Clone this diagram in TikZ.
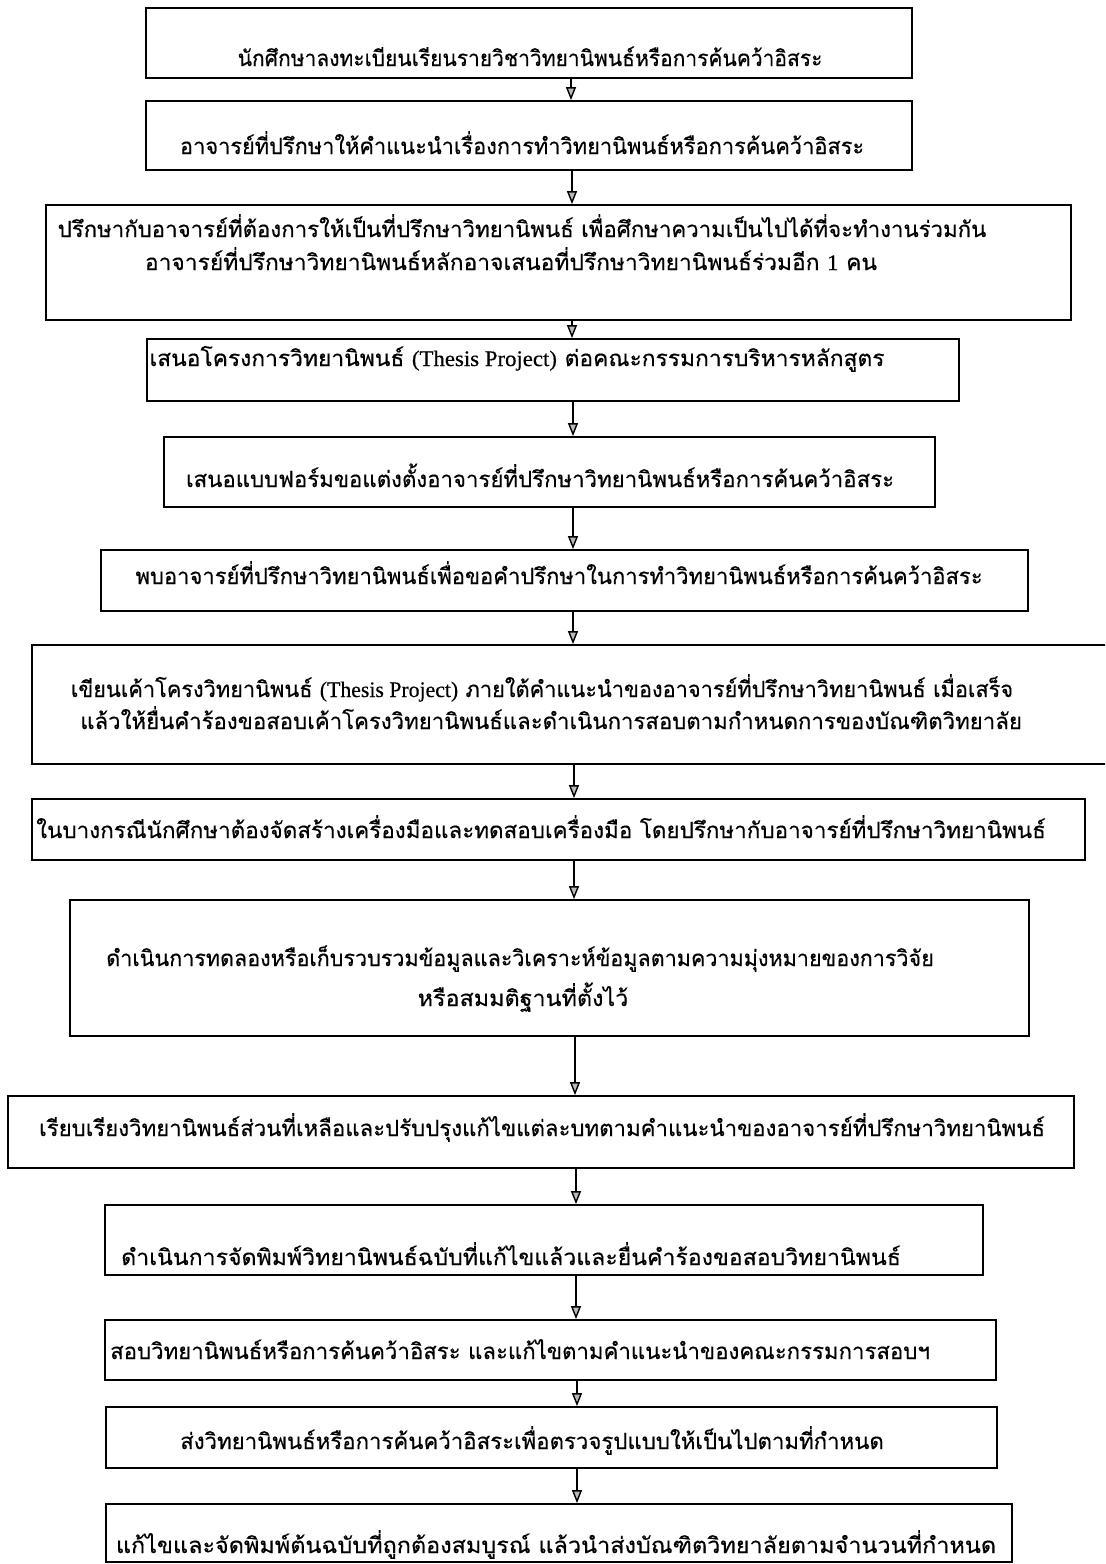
\documentclass[tikz,border=0pt]{standalone}
\usepackage{fontspec}
\newfontfamily\thaifont[Script=Thai,FakeBold=0.4]{Loma}
\newfontfamily\latfont[FakeBold=0.4]{Liberation Serif}
\usetikzlibrary{arrows.meta,fit}
\newcommand{\lt}[1]{{\latfont #1}}
\newcommand{\T}[2]{\scalebox{#1}[1]{#2}}
\begin{document}
\begin{tikzpicture}[x=0.5pt,y=-0.5pt,
  box/.style={draw, line width=0.9pt, inner sep=0pt},
  txt/.style={anchor=base, inner sep=0pt, font=\thaifont\fontsize{11.1pt}{13pt}\selectfont},
  arr/.style={line width=0.7pt, -{Triangle[length=6.5pt,width=5pt,fill=gray!55]}}]
\useasboundingbox (0,0) rectangle (1105,1564);
\clip (0,0) rectangle (1105,1564);
% boxes
\node[box, fit={(146,8) (912,78)}] (b1) {};
\node[box, fit={(146,101) (912,170)}] (b2) {};
\node[box, fit={(46,205) (1071,320)}] (b3) {};
\node[box, fit={(147,339) (959,401)}] (b4) {};
\node[box, fit={(164,437) (935,507)}] (b5) {};
\node[box, fit={(101,550) (1028,611)}] (b6) {};
\node[box, fit={(32,645) (1115,764)}] (b7) {};
\node[box, fit={(32,799) (1085,860)}] (b8) {};
\node[box, fit={(70,900) (1029,1036)}] (b9) {};
\node[box, fit={(8,1096) (1074,1168)}] (b10) {};
\node[box, fit={(105,1205) (983,1275)}] (b11) {};
\node[box, fit={(105,1320) (996,1380)}] (b12) {};
\node[box, fit={(106,1407) (997,1468)}] (b13) {};
\node[box, fit={(106,1504) (1012,1562)}] (b14) {};
% texts
\node[txt] (t1) at (530,66) {\T{0.945}{นักศึกษาลงทะเบียนเรียนรายวิชาวิทยานิพนธ์หรือการค้นคว้าอิสระ}};
\node[txt] (t2) at (522,154) {\T{0.981}{อาจารย์ที่ปรึกษาให้คำแนะนำเรื่องการทำวิทยานิพนธ์หรือการค้นคว้าอิสระ}};
\node[txt] (t3a) at (522,237) {\T{1.0}{ปรึกษากับอาจารย์ที่ต้องการให้เป็นที่ปรึกษาวิทยานิพนธ์ เพื่อศึกษาความเป็นไปได้ที่จะทำงานร่วมกัน}};
\node[txt] (t3b) at (511,270) {\T{1.027}{อาจารย์ที่ปรึกษาวิทยานิพนธ์หลักอาจเสนอที่ปรึกษาวิทยานิพนธ์ร่วมอีก \lt{1} คน}};
\node[txt] (t4) at (517,366) {\T{1.027}{เสนอโครงการวิทยานิพนธ์ \lt{(Thesis Project)} ต่อคณะกรรมการบริหารหลักสูตร}};
\node[txt] (t5) at (540,487) {\T{1.0}{เสนอแบบฟอร์มขอแต่งตั้งอาจารย์ที่ปรึกษาวิทยานิพนธ์หรือการค้นคว้าอิสระ}};
\node[txt] (t6) at (559,584) {\T{0.99}{พบอาจารย์ที่ปรึกษาวิทยานิพนธ์เพื่อขอคำปรึกษาในการทำวิทยานิพนธ์หรือการค้นคว้าอิสระ}};
\node[txt] (t7a) at (542,697) {\T{0.98}{เขียนเค้าโครงวิทยานิพนธ์ \lt{(Thesis Project)} ภายใต้คำแนะนำของอาจารย์ที่ปรึกษาวิทยานิพนธ์ เมื่อเสร็จ}};
\node[txt] (t7b) at (551,729) {\T{1.0}{แล้วให้ยื่นคำร้องขอสอบเค้าโครงวิทยานิพนธ์และดำเนินการสอบตามกำหนดการของบัณฑิตวิทยาลัย}};
\node[txt] (t8) at (541,838) {\T{1.01}{ในบางกรณีนักศึกษาต้องจัดสร้างเครื่องมือและทดสอบเครื่องมือ โดยปรึกษากับอาจารย์ที่ปรึกษาวิทยานิพนธ์}};
\node[txt] (t9a) at (520,966) {\T{0.97}{ดำเนินการทดลองหรือเก็บรวบรวมข้อมูลและวิเคราะห์ข้อมูลตามความมุ่งหมายของการวิจัย}};
\node[txt] (t9b) at (523,1006) {\T{1.05}{หรือสมมติฐานที่ตั้งไว้}};
\node[txt] (t10) at (542,1136) {\T{1.0}{เรียบเรียงวิทยานิพนธ์ส่วนที่เหลือและปรับปรุงแก้ไขแต่ละบทตามคำแนะนำของอาจารย์ที่ปรึกษาวิทยานิพนธ์}};
\node[txt] (t11) at (511,1265) {\T{1.04}{ดำเนินการจัดพิมพ์วิทยานิพนธ์ฉบับที่แก้ไขแล้วและยื่นคำร้องขอสอบวิทยานิพนธ์}};
\node[txt] (t12) at (520,1359) {\T{1.0}{สอบวิทยานิพนธ์หรือการค้นคว้าอิสระ และแก้ไขตามคำแนะนำของคณะกรรมการสอบฯ}};
\node[txt] (t13) at (532,1449) {\T{1.0}{ส่งวิทยานิพนธ์หรือการค้นคว้าอิสระเพื่อตรวจรูปแบบให้เป็นไปตามที่กำหนด}};
\node[txt] (t14) at (556,1553) {\T{1.055}{แก้ไขและจัดพิมพ์ต้นฉบับที่ถูกต้องสมบูรณ์ แล้วนำส่งบัณฑิตวิทยาลัยตามจำนวนที่กำหนด}};
% arrows
\draw[arr] (571,0 |- b1.south) -- (571,0 |- b2.north);
\draw[arr] (572,0 |- b2.south) -- (572,0 |- b3.north);
\draw[arr] (572,0 |- b3.south) -- (572,0 |- b4.north);
\draw[arr] (573,0 |- b4.south) -- (573,0 |- b5.north);
\draw[arr] (573,0 |- b5.south) -- (573,0 |- b6.north);
\draw[arr] (573,0 |- b6.south) -- (573,0 |- b7.north);
\draw[arr] (574,0 |- b7.south) -- (574,0 |- b8.north);
\draw[arr] (574,0 |- b8.south) -- (574,0 |- b9.north);
\draw[arr] (575,0 |- b9.south) -- (575,0 |- b10.north);
\draw[arr] (576,0 |- b10.south) -- (576,0 |- b11.north);
\draw[arr] (576,0 |- b11.south) -- (576,0 |- b12.north);
\draw[arr] (577,0 |- b12.south) -- (577,0 |- b13.north);
\draw[arr] (577,0 |- b13.south) -- (577,0 |- b14.north);
\end{tikzpicture}
\end{document}
